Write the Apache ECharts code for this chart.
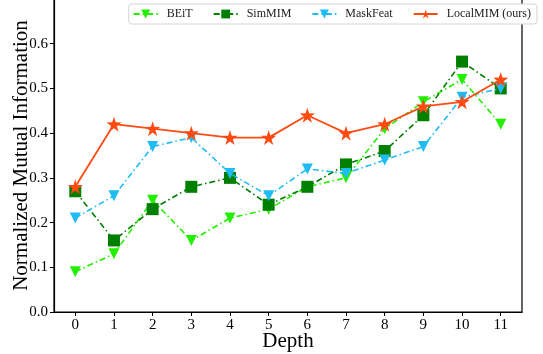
<!DOCTYPE html>
<html>
<head>
<meta charset="utf-8">
<script src="https://cdn.jsdelivr.net/npm/echarts@6/dist/echarts.min.js"></script>
<style>
  html, body { margin: 0; padding: 0; background: #fff; }
  #container { width: 543px; height: 354px; }
</style>
</head>
<body>
<div id="container"></div>
<script>
const depths = [0, 1, 2, 3, 4, 5, 6, 7, 8, 9, 10, 11];
const beit = [0.09, 0.13, 0.25, 0.16, 0.21, 0.23, 0.28, 0.30, 0.41, 0.47, 0.52, 0.42];
const simmim = [0.27, 0.16, 0.23, 0.28, 0.30, 0.24, 0.28, 0.33, 0.36, 0.44, 0.56, 0.50];
const maskfeat = [0.21, 0.26, 0.37, 0.39, 0.31, 0.26, 0.32, 0.31, 0.34, 0.37, 0.48, 0.50];
const localmim = [0.28, 0.42, 0.41, 0.40, 0.39, 0.39, 0.44, 0.40, 0.42, 0.46, 0.47, 0.52];
const yTicks = [0, 0.1, 0.2, 0.3, 0.4, 0.5, 0.6];

const font = 'Liberation Serif';
const star = 'path://M50,0 L61.8,35.5 L100,36.2 L69.1,58.8 L80.9,95.1 L50,72.6 L19.1,95.1 L30.9,58.8 L0,36.2 L38.2,35.5 Z';

function pairs(vals) {
  return depths.map((d, i) => [d, vals[i]]);
}

const chart = echarts.init(document.getElementById('container'));

chart.setOption({
  animation: false,
  grid: {
    left: 54, right: 21, top: -1, bottom: 42,
    outerBoundsMode: 'none', containLabel: false,
    show: true, borderColor: '#000', borderWidth: 1.2
  },
  legend: {
    right: 6, top: 4,
    itemWidth: 24, itemHeight: 11, itemGap: 20,
    padding: [4, 6, 4, 4],
    borderColor: '#d4d4d4', borderWidth: 1, borderRadius: 3,
    backgroundColor: '#fff',
    textStyle: { fontFamily: font, fontSize: 12, color: '#222', padding: [0, 0, 0, 4] },
    data: ['BEiT', 'SimMIM', 'MaskFeat', 'LocalMIM (ours)']
  },
  xAxis: {
    type: 'value',
    min: -0.55, max: 11.55,
    name: 'Depth', nameLocation: 'middle', nameGap: 19, nameMoveOverlap: false,
    nameTextStyle: { fontFamily: font, fontSize: 21, color: '#000' },
    axisLine: { onZero: false, lineStyle: { color: '#000', width: 1.2 } },
    axisTick: { show: true, length: 4, lineStyle: { color: '#000' }, customValues: depths },
    axisLabel: { fontFamily: font, fontSize: 15, color: '#000', margin: 6, customValues: depths },
    splitLine: { show: false }
  },
  yAxis: {
    type: 'value',
    min: 0, max: 0.7,
    name: 'Normalized Mutual Information', nameLocation: 'middle', nameGap: 22, nameMoveOverlap: false,
    nameTextStyle: { fontFamily: font, fontSize: 21, color: '#000' },
    axisLine: { show: true, onZero: false, lineStyle: { color: '#000', width: 1.2 } },
    axisTick: { show: true, length: 4, lineStyle: { color: '#000' }, customValues: yTicks },
    axisLabel: { fontFamily: font, fontSize: 15, color: '#000', margin: 6, customValues: yTicks,
      formatter: v => v.toFixed(1) },
    splitLine: { show: false }
  },
  series: [
    {
      name: 'BEiT', type: 'line', data: pairs(beit),
      symbol: 'triangle', symbolRotate: 180, symbolSize: 11,
      itemStyle: { color: '#22f000' },
      lineStyle: { color: '#22f000', width: 1.6, type: [6, 3, 1.5, 3] },
      z: 2
    },
    {
      name: 'SimMIM', type: 'line', data: pairs(simmim),
      symbol: 'rect', symbolSize: 12,
      itemStyle: { color: '#007f00' },
      lineStyle: { color: '#007f00', width: 1.6, type: [6, 3, 1.5, 3] },
      z: 3
    },
    {
      name: 'MaskFeat', type: 'line', data: pairs(maskfeat),
      symbol: 'triangle', symbolRotate: 180, symbolSize: 11,
      itemStyle: { color: '#1ebcf5' },
      lineStyle: { color: '#1ebcf5', width: 1.6, type: [6, 3, 1.5, 3] },
      z: 4
    },
    {
      name: 'LocalMIM (ours)', type: 'line', data: pairs(localmim),
      symbol: star, symbolSize: 15,
      itemStyle: { color: '#ff4a12' },
      lineStyle: { color: '#ff4a12', width: 1.8 },
      z: 5
    }
  ]
});
</script>
</body>
</html>
